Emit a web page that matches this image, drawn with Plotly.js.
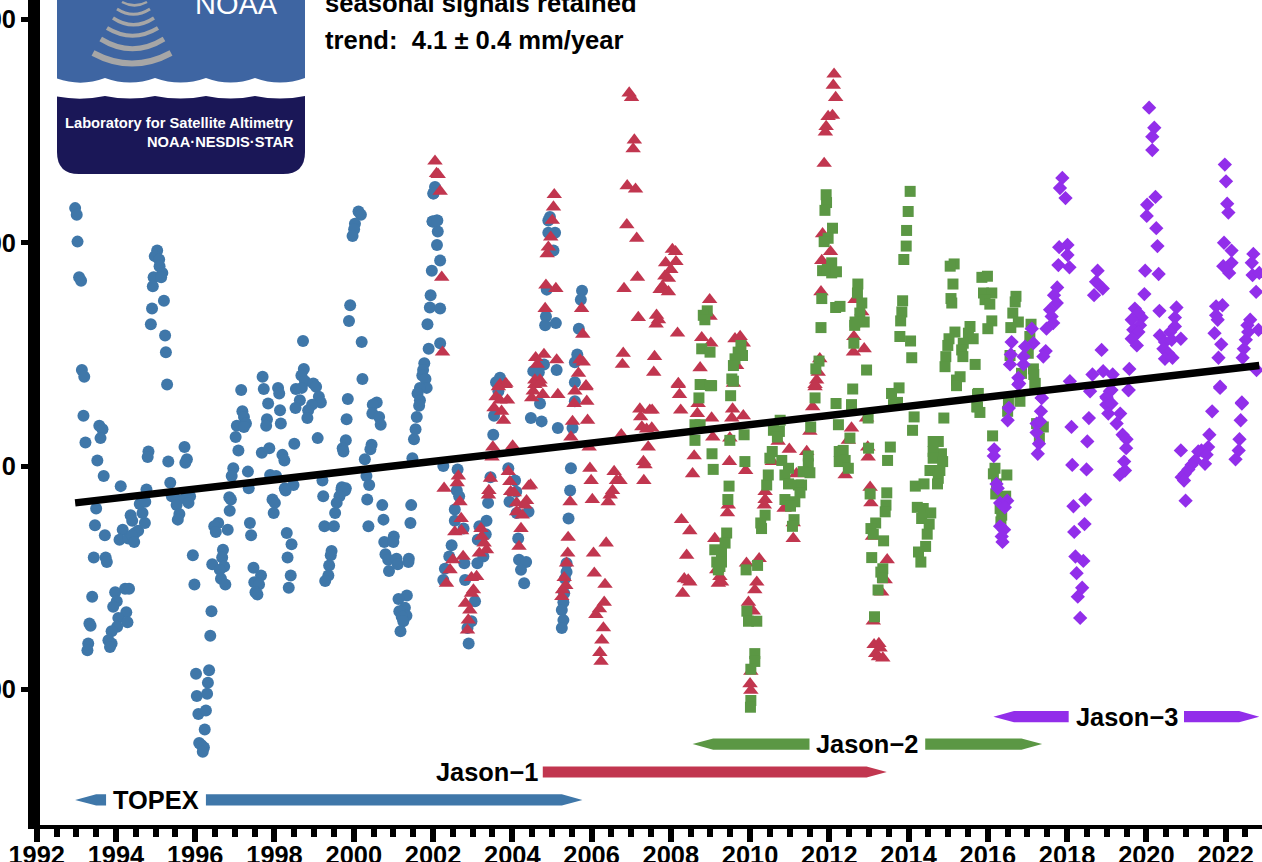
<!DOCTYPE html>
<html><head><meta charset="utf-8">
<script src="https://cdn.plot.ly/plotly-3.0.1.min.js"></script>
<style>html,body{margin:0;padding:0;background:#fff;overflow:hidden}</style>
</head><body><div id="chart" style="width:1262px;height:862px"></div>
<script>
// [year, sea level in mm]
const topex = [[1992.97,231],[1993.01,225],[1993.03,201],[1993.07,169],[1993.12,166],[1993.14,86],[1993.20,80],[1993.18,45],[1993.58,36],[1993.66,33],[1993.61,25],[1993.23,21],[1993.53,5],[1993.69,-9],[1994.12,-18],[1994.77,-21],
[1995.04,193],[1994.98,188],[1995.09,185],[1995.10,179],[1995.17,173],[1994.95,169],[1995.14,169],[1994.93,161],[1995.21,148],[1994.91,141],[1994.88,127],[1995.24,117],[1995.26,102],[1995.29,73],
[1994.82,13],[1994.80,8],[1995.32,4],[1995.73,17],[1995.79,6],[1995.75,3],[1995.37,-15],
[1997.16,68],[1997.70,80],[1997.73,69],[1998.09,70],[1998.12,65],[1997.84,56],[1998.14,50],[1997.81,42],[1997.79,36],[1998.16,38],[1997.19,49],[1997.23,44],[1997.28,38],[1997.05,36],[1997.23,35],[1997.02,26],[1997.09,14],[1996.96,-2],[1996.92,-9],[1997.33,-5],[1997.68,12],[1997.87,16],[1998.2,10],[1998.25,5],[1998.5,20],
[1998.72,112],[1998.74,87],[1998.68,81],[1998.77,76],[1998.98,74],[1999.05,71],[1998.54,69],[1998.69,70],[1999.12,62],[1999.17,57],[1998.64,59],[1998.53,52],[1998.95,55],[1998.85,50],[1998.83,43],[1999.09,25],[1997.89,-8],[1998.04,-9],[1999.21,-13],[1998.26,-20],[1998.48,-17],[1997.35,-20],
[2000.12,228],[2000.18,225],[2000.03,217],[2000.01,212],[1999.97,206],[1999.91,144],[1999.88,130],[2000.2,111],[2000.22,78],[1999.85,60],[1999.82,42],[1999.8,23],[1999.72,16],[1999.74,13],[2000.58,57],[2000.48,55],[2000.47,47],[2000.64,44],[2000.68,37],[2000.45,19],[2000.42,15],[2000.28,6],[2000.32,-9],[2000.39,-17],[1999.7,-19],[1999.8,-20],
[2002.01,244],[2001.99,219],[2002.09,220],[2002.12,210],[2002.1,198],[2002.18,184],[2001.97,175],[2001.94,153],[2001.92,142],[2002.18,141],[2001.86,127],[2002.18,110],[2001.89,105],[2001.78,92],[2001.75,86],[2001.73,81],[2001.81,78],[2001.84,70],[2001.67,70],[2001.61,65],[2001.67,59],[2001.65,54],[2001.59,44],[2001.56,33],[2001.52,24],[2001.48,7],
[1993.5,-38],[1993.47,-53],[1993.72,-62],[1993.44,-82],[1993.74,-82],[1993.77,-86],[1993.4,-117],[1993.98,-113],[1994.23,-110],[1994.33,-110],[1994.02,-121],[1993.93,-126],[1994.26,-131],[1994.06,-136],[1994.29,-140],[1994.03,-144],[1993.89,-148],[1993.33,-141],[1993.36,-143],[1993.3,-159],[1993.28,-165],[1993.81,-156],[1993.89,-159],[1993.85,-162],
[1994.37,-44],[1994.41,-49],[1994.17,-57],[1994.09,-66],[1994.31,-65],[1994.48,-60],[1994.56,-58],[1994.4,-62],[1994.46,-68],[1994.73,-51],[1994.67,-42],[1994.6,-34],[1994.74,-32],
[1995.41,-27],[1995.53,-30],[1995.74,-29],[1995.87,-27],[1995.83,-33],[1995.53,-35],[1995.6,-43],[1995.56,-48],[1995.94,-80],[1995.98,-106],
[1996.02,-186],[1996.35,-183],[1996.32,-194],[1996.04,-206],[1996.3,-204],[1996.08,-222],[1996.27,-219],[1996.24,-236],[1996.1,-248],[1996.16,-250],[1996.22,-252],[1996.19,-256],[1996.41,-130],[1996.38,-152],
[1996.58,-51],[1996.48,-54],[1996.52,-59],[1996.82,-57],[1996.7,-75],[1996.68,-82],[1996.43,-88],[1996.73,-90],[1996.62,-93],[1996.65,-101],[1996.76,-106],
[1996.86,-28],[1996.9,-30],[1996.87,-40],[1997.38,-51],[1997.41,-62],[1997.47,-91],[1997.66,-98],[1997.49,-104],[1997.61,-106],[1997.52,-113],[1997.57,-115],
[1997.95,-30],[1998.01,-33],[1997.98,-42],[1998.28,-22],[1998.31,-60],[1998.43,-70],[1998.33,-82],[1998.41,-98],[1998.36,-109],
[1999.23,-27],[1999.26,-54],[1999.5,-54],[1999.69,-21],[1999.78,-22],[1999.64,-27],[1999.57,-33],[1999.53,-42],[1999.44,-76],[1999.42,-80],[1999.38,-89],[1999.36,-98],[1999.28,-103],
[2000.34,-30],[2000.37,-54],[2000.72,-35],[2000.75,-48],[2000.77,-68],[2001.01,-63],[2001.0,-68],[2000.8,-79],[2000.87,-84],[2001.08,-83],[2001.11,-88],[2000.89,-94],[2001.39,-83],[2001.38,-86],[2001.45,-35],[2001.43,-51],
[2001.34,-116],[2001.13,-119],[2001.29,-127],[2001.15,-130],[2001.33,-134],[2001.21,-135],[2001.25,-139],[2001.18,-148],
[2002.05,250],[2002.01,244],[2001.99,219],[2002.11,220],
[2004.95,223],[2004.91,220],[2004.91,209],[2005.08,209],[2005.04,193],[2004.87,158],[2004.85,134],[2004.83,126],[2005.1,128],[2004.8,91],[2004.53,85],[2005.12,86],[2004.67,84],
[2005.76,157],[2005.73,149],[2005.68,123],[2005.64,100],[2005.58,93],[2005.58,75],[2003.69,79],[2003.59,75],
[2005.58,58],[2005.52,34],[2003.65,67],[2003.54,45],[2003.52,28],[2004.47,43],[2004.74,40],[2005.15,34],[2004.7,56],
[2002.26,0],[2002.62,-3],[2002.6,-22],[2002.66,-27],[2002.55,-39],[2002.55,-49],[2002.77,-56],[2002.47,-71],[2002.41,-81],[2002.3,-92],[2002.26,-102],[2002.81,-102],[2002.79,-87],[2003.17,-54],[2003.35,-49],[2003.33,-61],[2003.13,-66],[2003.27,-81],[2003.12,-87],[2003.06,-121],[2002.97,-139],[2002.87,-145],[2002.9,-159],
[2003.39,-33],[2003.45,-10],[2003.9,-2],[2004.07,-13],[2004.1,-23],[2003.93,-32],[2004.11,-42],[2004.41,-41],[2004.15,-65],[2004.17,-84],[2004.35,-86],[2004.22,-93],[2004.3,-105],
[2005.48,-2],[2005.46,-22],[2005.42,-47],[2005.37,-87],[2005.37,-95],[2005.33,-101],[2005.31,-114],[2005.29,-122],[2005.25,-129],[2005.29,-138],[2005.25,-145]];

const jason1 = [[2002.05,273],[2002.09,262],[2002.13,261],[2002.18,246],[2002.22,169],[2002.24,102],
[2005.06,243],[2005.04,232],[2005.01,220],[2004.97,205],[2004.91,196],[2004.88,190],[2004.85,162],[2005.1,159],[2004.83,141],[2005.75,141],[2005.78,118],[2004.8,100],[2004.59,97],[2004.63,91],[2005.12,95],[2005.71,95],[2005.79,93],[2005.67,83],[2004.57,77],[2004.7,77],[2003.84,74],[2003.69,73],[2005.86,72],
[2006.95,334],[2007.01,330],[2007.08,292],[2007.05,284],[2006.9,251],[2007.11,248],[2006.89,216],[2007.14,204],[2007.16,169],[2006.82,159],[2007.18,133],[2006.8,101],[2006.78,91],[2007.59,98],[2007.57,84],
[2008.04,194],[2008.12,192],[2007.87,182],[2008.13,183],[2008.0,176],[2007.85,170],[2007.94,168],[2007.79,161],[2007.73,158],[2007.94,156],[2007.64,135],[2007.69,131],[2007.63,127],[2008.17,119],[2008.74,88],[2008.19,74],
[2008.98,149],[2008.99,134],[2008.78,115],[2009.01,110],[2009.62,114],[2009.75,116],[2009.83,110],[2009.66,90],[2009.58,74],
[2012.12,351],[2012.1,341],[2012.16,330],[2012.08,314],[2011.97,313],[2011.92,304],[2011.9,299],[2011.87,271],[2011.83,208],[2012.03,192],[2011.81,184],[2011.79,156],[2011.76,96],[2011.72,84],[2011.68,77],[2011.64,71],
[2005.15,64],[2005.86,71],[2005.58,67],[2005.88,58],[2005.56,56],[2005.9,41],[2005.52,40],[2005.48,26],[2005.94,17],
[2003.82,73],[2003.65,71],[2003.88,59],[2003.59,62],[2003.69,59],[2003.54,52],[2003.73,49],[2003.78,41],[2004.57,73],[2004.7,74],[2004.53,67],[2004.77,64],[2004.49,61],[2003.51,17],[2003.49,8],[2004.01,18],
[2002.28,-20],[2002.64,-9],[2002.61,-15],[2002.68,-32],[2002.71,-47],[2002.55,-59],[2002.72,-58],[2002.5,-84],[2002.76,-81],[2002.43,-93],[2002.34,-105],
[2003.45,-11],[2003.41,-22],[2003.4,-26],[2003.9,-5],[2003.94,-14],[2003.96,-23],[2004.05,-24],[2004.46,-17],[2004.41,-18],[2004.11,-33],[2004.36,-31],[2004.32,-35],[2004.11,-41],[2004.25,-44],[2004.22,-56],[2004.17,-72],
[2003.21,-56],[2003.23,-63],[2003.29,-69],[2003.35,-75],[2003.17,-78],[2003.1,-99],[2002.97,-100],[2003.02,-111],[2002.97,-114],[2002.82,-123],[2002.93,-129],[2002.89,-138],[2002.87,-147],
[2005.46,-32],[2005.41,-64],[2005.4,-78],[2005.37,-87],[2005.31,-100],[2005.35,-107],[2005.27,-111],[2005.25,-117],
[2005.96,-2],[2005.99,-13],[2006.02,-30],[2006.57,-5],[2006.72,-13],[2006.63,-13],[2006.53,-22],[2006.47,-26],[2006.42,-32],[2006.37,-69],[2006.05,-78],[2006.07,-96],[2006.34,-106],[2006.32,-122],[2006.2,-128],[2006.11,-133],[2006.3,-145],[2006.26,-156],[2006.21,-167],[2006.24,-175],
[2006.75,28],[2007.22,51],[2007.47,50],[2007.53,50],[2007.24,44],[2007.27,35],[2007.39,33],[2007.52,34],[2007.43,17],[2007.31,4],[2007.35,1],[2007.32,-13],
[2008.19,73],[2008.22,64],[2008.25,50],[2008.67,47],[2008.69,56],[2009.03,43],[2009.06,26],[2008.59,9],[2008.55,-7],[2009.56,51],[2009.54,43],[2009.83,45],[2009.49,25],[2009.48,4],[2009.89,-4],
[2009.45,-35],[2009.43,-42],[2008.27,-48],[2008.48,-58],[2008.4,-80],[2008.34,-101],[2008.44,-102],[2008.48,-104],[2008.3,-114],[2009.11,-65],[2009.16,-93],[2009.24,-99],[2009.2,-105],[2009.28,-104],
[2009.91,-87],[2010.23,-83],[2010.17,-104],[2010.12,-111],[2009.96,-122],[2010.08,-130],[2010.02,-184],[2010.0,-195],[2010.02,-201],
[2010.38,-23],[2010.38,-30],[2010.36,-35],[2010.86,-38],[2011.09,-51],[2011.09,-65],[2010.56,4],[2010.71,22],[2010.99,15],[2011.17,-7],[2011.43,13],[2011.51,31],[2011.58,53],[2011.64,73],
[2012.56,34],[2012.48,23],[2012.4,-8],[2012.94,43],[2012.97,17],[2012.98,8],[2013.03,-19],[2013.05,-33],[2013.09,-63],[2013.46,-84],[2013.41,-102],[2013.32,-113],[2013.11,-139],[2013.13,-160],[2013.25,-159],[2013.28,-163],[2013.17,-168],[2013.24,-171],[2013.35,-172],
[2012.65,149],[2012.82,138],[2012.62,116],[2012.88,105],[2012.61,102]];

const jason2 = [[2011.92,243],[2011.93,236],[2011.89,229],[2012.08,213],[2011.97,204],[2011.87,201],[2012.06,182],[2011.83,175],[2012.06,173],[2011.95,176],[2012.18,174],[2011.81,150],[2012.16,142],[2011.79,124],[2011.74,94],[2011.66,87],
[2008.92,139],[2008.82,135],[2008.86,131],[2008.78,105],[2008.99,102],[2008.74,73],[2009.03,72],[2009.77,108],[2009.7,102],[2009.81,99],[2009.62,96],[2009.58,90],[2009.54,78],
[2008.76,73],[2009.0,72],[2008.71,61],[2008.61,37],[2008.74,37],[2008.61,23],[2009.04,11],[2009.07,-3],[2009.51,63],[2009.58,76],[2009.49,23],[2009.85,28],[2009.87,4],[2009.47,-18],[2009.44,-30],
[2009.41,-60],[2009.37,-69],[2009.11,-75],[2009.28,-78],[2009.16,-86],[2009.28,-86],[2009.2,-93],[2009.24,-90],
[2010.38,-44],[2010.27,-51],[2010.29,-56],[2010.42,-17],[2010.46,-8],[2010.5,7],[2010.56,13],[2010.8,5],[2010.59,32],[2010.74,31],[2010.76,41],[2010.69,26],
[2010.97,-2],[2010.88,-8],[2010.97,-16],[2011.22,-17],[2011.3,-17],[2011.26,-24],[2010.88,-30],[2011.13,-32],[2011.02,-36],[2011.11,-48],[2011.07,-54],
[2011.47,9],[2011.47,2],[2011.34,-5],[2011.51,-6],[2011.53,35],[2011.64,61],[2012.17,56],[2012.23,37],[2012.25,13],[2012.25,4],
[2010.12,-168],[2010.12,-175],[2010.02,-182],[2010.02,-210],[2010.01,-216],[2009.92,-130],[2009.96,-139],[2010.17,-139],[2009.9,-93],[2010.19,-89],
[2014.04,246],[2013.99,228],[2013.95,211],[2013.94,197],[2013.88,185],[2013.85,148],[2013.83,138],[2013.8,130],[2013.78,116],[2014.05,112],[2014.08,97],
[2012.72,163],[2012.71,155],[2012.82,146],[2012.77,137],[2012.65,129],[2012.88,129],[2012.64,126],[2012.62,110],[2012.94,86],[2012.59,69],[2012.56,55],[2012.27,143],
[2015.15,181],[2015.05,179],[2015.12,163],[2015.07,150],[2015.09,146],[2015.17,120],[2015.02,114],[2014.99,108],[2014.94,98],[2014.92,89],[2015.3,80],[2015.21,77],[2015.21,72],
[2015.85,169],[2015.99,170],[2015.89,155],[2016.1,155],[2015.93,149],[2016.05,145],[2016.1,130],[2016.0,123],[2015.55,125],[2015.51,119],[2015.63,114],[2015.38,110],[2015.34,104],[2015.37,98],[2015.68,91],
[2016.71,152],[2016.69,147],[2016.63,137],[2016.77,129],[2016.58,124],[2017.09,127],[2017.06,116],[2017.02,101],[2016.56,99],[2016.85,83],[2017.15,87],[2017.16,82],[2017.19,74],[2015.74,64],[2015.72,53],
[2013.76,70],[2013.57,65],[2013.66,56],[2013.72,57],[2013.62,55],[2014.14,44],[2014.1,32],[2014.89,43],[2012.98,43],[2012.52,25],[2012.35,14],[2012.4,5],[2012.48,-2],[2013.54,17],[2013.47,5],[2012.99,16],
[2014.75,22],[2014.62,22],[2014.83,11],[2014.62,13],[2014.62,7],[2014.86,4],[2014.54,-4],[2014.79,-4],[2014.75,-11],[2014.73,-16],[2014.39,-16],[2014.17,-18],[2013.45,-24],[2013.03,-25],[2013.43,-35],[2013.41,-41],
[2014.22,-37],[2014.37,-38],[2014.56,-42],[2014.33,-47],[2014.52,-52],[2014.47,-61],[2013.17,-51],[2013.05,-56],[2013.11,-61],[2013.37,-67],[2014.43,-72],[2014.25,-77],[2014.31,-86],[2013.07,-82],[2013.35,-92],[2013.3,-95],[2013.34,-100],[2013.23,-111],[2013.14,-135],
[2015.76,65],[2015.74,53],[2015.8,48],[2016.12,27],[2016.18,-2],[2016.14,-7],[2016.48,-8],[2016.22,-16],[2016.2,-25],[2016.45,-27],[2016.31,-38],[2016.35,-44],[2016.33,-50],
[2016.52,58],[2016.81,58],[2016.5,49],[2017.19,74],[2017.23,38],[2017.4,35],[2017.3,25]];

const jason3 = [[2020.07,321],[2020.2,303],[2020.15,295],[2020.15,283],[2020.23,241],[2020.02,234],[2020.01,224],[2020.25,213],[2020.28,197],[2019.97,175],[2020.31,172],[2019.95,154],[2020.33,139],
[2019.71,141],[2019.8,137],[2019.88,133],[2019.63,131],[2019.84,126],[2019.67,122],[2019.8,120],[2019.63,114],[2019.76,108],
[2020.76,142],[2020.72,133],[2020.72,125],[2020.6,120],[2020.34,117],[2020.87,114],[2020.47,111],[2020.64,113],[2020.43,105],[2020.55,101],[2020.47,96],[2020.66,97],
[2017.88,258],[2017.82,249],[2017.96,240],[2018.01,198],[2017.8,196],[2018.01,189],[2017.78,180],[2018.06,178],[2017.75,160],[2017.67,153],[2017.74,146],[2017.57,140],[2017.61,134],[2017.65,128],[2017.48,123],
[2018.77,175],[2018.73,165],[2018.9,159],[2018.68,153],[2018.87,104],
[2017.11,123],[2016.6,111],[2017.15,110],[2016.94,107],[2016.58,100],[2017.46,103],[2017.4,98],[2016.9,98],[2016.56,91],[2016.9,91],[2016.77,79],[2016.77,73],
[2018.64,82],[2018.91,85],[2019.15,82],[2019.57,87],[2018.07,76],[2019.55,68],[2018.58,67],[2019.08,67],[2019,61],[2017.36,61],
[2021.98,270],[2022.01,255],[2022.04,235],[2022.07,227],[2021.96,200],[2022.15,193],[2022.15,182],[2021.94,179],[2022.09,173],
[2022.7,190],[2022.66,182],[2022.68,171],[2022.85,173],[2022.77,156],
[2021.92,144],[2021.76,143],[2021.76,135],[2021.8,131],[2021.72,119],[2021.89,109],[2021.82,97],[2021.86,71],
[2022.62,131],[2022.55,126],[2022.57,120],[2022.83,122],[2022.51,113],[2022.46,105],[2022.43,97],[2022.78,86],[2022.41,57],
[2016.79,74],[2016.53,52],[2016.5,41],[2017.36,61],[2017.34,49],[2017.23,38],[2017.32,40],[2017.23,30],[2017.29,20],[2017.26,11],
[2016.16,15],[2016.15,9],[2016.22,-16],[2016.25,-20],[2016.31,-33],[2016.49,-31],[2016.43,-37],[2016.31,-54],[2016.41,-57],[2016.35,-63],[2016.37,-68],
[2018.55,43],[2018.51,22],[2018.11,35],[2018.13,1],[2018.49,-3],[2018.46,-30],[2018.16,-36],[2018.44,-52],[2018.18,-59],[2018.21,-81],[2018.41,-85],[2018.24,-96],[2018.38,-109],[2018.27,-117],[2018.33,-136],
[2018.99,62],[2019.12,68],[2018.99,55],[2019.12,56],[2019.04,47],[2019.34,47],[2019.25,38],[2019.4,28],[2019.5,24],[2019.49,16],[2019.44,4],[2019.46,-4],[2019.33,-8],
[2019.55,68],[2021.86,70],[2022.41,56],[2022.38,41],[2021.66,49],[2022.35,24],[2022.33,14],[2022.25,6],
[2021.59,28],[2020.87,14],[2021.56,17],[2021.39,14],[2021.31,13],[2021.52,10],[2021.48,2],[2021.23,5],[2021.14,1],[2021.06,-3],[2020.97,-7],[2020.89,-10],[2020.95,-13],[2020.99,-31]];

const trendYears = [1992.97, 2022.85];
const trendMm = [-33, 90];

const missionNames = ["TOPEX", "Jason\u22121", "Jason\u22122", "Jason\u22123"];
const missionColors = ["#3f77a9", "#c1364f", "#5b9744", "#922eea"];
const missionLevel = [-299, -274, -249, -224.5];
const missionLabelYear = [1995.01, 2003.37, 2012.95, 2019.5];
const missionTipLeft = [1992.97, null, 2008.55, 2016.14];
const missionHeadLeft = [1993.5, 2004.77, 2009.07, 2016.66];
const missionGapStart = [1993.75, null, 2011.5, 2018.04];
const missionGapEnd = [1996.27, null, 2014.42, 2020.95];
const missionHeadRight = [2005.25, 2012.94, 2016.85, 2022.34];
const missionTipRight = [2005.77, 2013.45, 2017.37, 2022.85];

const W = 1262, H = 862, L = 33, B = 37;
const pw = W - L, ph = H - B;
const fx = x => (x - L) / pw, fy = y => 1 - y / ph;
const FONT = '"Liberation Sans", Arial, sans-serif';
const P = (x, y) => fx(x).toFixed(5) + ',' + fy(y).toFixed(5);

function paperPath(d, fill, line) {
  return {type: 'path', xref: 'paper', yref: 'paper', layer: 'above', path: d,
    fillcolor: fill || 'rgba(0,0,0,0)', line: line || {width: 0}};
}
const shapes = [];

// satellite mission arrows
const half = 5;
function dataPath(pts, color) {
  shapes.push({type: 'path', xref: 'x', yref: 'y', layer: 'above',
    path: 'M' + pts.map(p => p[0] + ',' + p[1]).join('L') + 'Z', fillcolor: color, line: {width: 0}});
}
missionNames.forEach((n, i) => {
  const y = missionLevel[i], c = missionColors[i];
  const endBar = missionGapStart[i];
  if (endBar !== null) {
    dataPath([[missionTipLeft[i], y], [missionHeadLeft[i], y + half], [endBar, y + half], [endBar, y - half], [missionHeadLeft[i], y - half]], c);
    dataPath([[missionGapEnd[i], y + half], [missionHeadRight[i], y + half], [missionTipRight[i], y], [missionHeadRight[i], y - half], [missionGapEnd[i], y - half]], c);
  } else {
    dataPath([[missionHeadLeft[i], y + half], [missionHeadRight[i], y + half], [missionTipRight[i], y], [missionHeadRight[i], y - half], [missionHeadLeft[i], y - half]], c);
  }
});

// logo
shapes.push(paperPath('M' + P(57, -6) + 'L' + P(305, -6) + 'L' + P(305, 152) + 'Q' + P(305, 174) + ' ' + P(283, 174) + 'L' + P(79, 174) + 'Q' + P(57, 174) + ' ' + P(57, 152) + 'Z', '#1a1757'));
function waveTop(y, dy) {
  const cusps = [105, 155, 206, 255, 305];
  let d = '', prev = 57;
  cusps.forEach(c => { d += 'Q' + P((prev + c) / 2, y + dy) + ' ' + P(c, y); prev = c; });
  return d;
}
shapes.push(paperPath('M' + P(57, -6) + 'L' + P(57, 96.5) + waveTop(96, 5) + 'L' + P(305, -6) + 'Z', '#ffffff'));
shapes.push(paperPath('M' + P(57, -6) + 'L' + P(57, 78.5) + waveTop(78, 9) + 'L' + P(305, -6) + 'Z', '#3e65a2'));
[[93, 171, 53, 65, 6], [100.7, 164, 39, 50, 5], [107, 158, 28, 36.7, 4], [113, 154, 18, 25.7, 3.5], [117, 150, 9, 15, 3], [122, 147, 2, 6, 2.5]]
  .forEach(a => {
    const ctrl = 2 * a[3] - a[2] - a[4] / 2;
    shapes.push(paperPath('M' + P(a[0], a[2]) + 'Q' + P((a[0] + a[1]) / 2, ctrl) + ' ' + P(a[1], a[2]), null, {color: '#a6a6a6', width: a[4]}));
  });

// heavy left axis line
shapes.push({type: 'rect', xref: 'paper', yref: 'paper', layer: 'above',
  x0: fx(28), x1: fx(40), y0: fy(-5), y1: fy(829), fillcolor: '#000', line: {width: 0}});

const annotations = missionNames.map((n, i) => ({
  text: n, x: missionLabelYear[i], y: missionLevel[i], xref: 'x', yref: 'y', showarrow: false,
  xanchor: 'center', yanchor: 'middle', font: {family: FONT, size: 25.4, color: '#000', weight: 700}
}));
function note(text, x, y, size, color, anchor, weight) {
  annotations.push({text, x: fx(x), y: fy(y), xref: 'paper', yref: 'paper', showarrow: false,
    xanchor: anchor, yanchor: 'middle', borderpad: 0, borderwidth: 0,
    font: {family: FONT, size, color, weight}});
}
note('seasonal signals retained', 325, 3, 25.6, '#000', 'left', 700);
note('trend:\u00a0\u00a04.1 \u00b1 0.4 mm/year', 325, 40, 25.6, '#000', 'left', 700);
note('NOAA', 236.5, 4, 29, '#fff', 'center', 400);
note('Laboratory for Satellite Altimetry', 294, 123.5, 14.7, '#fff', 'right', 700);
note('NOAA\u00b7NESDIS\u00b7STAR', 293.5, 141.5, 14.7, '#fff', 'right', 700);

function series(pts, color, symbol, size) {
  return {type: 'scatter', mode: 'markers', x: pts.map(p => p[0]), y: pts.map(p => p[1]),
    marker: {color, symbol, size, line: {width: 0}}, hoverinfo: 'skip'};
}
const traces = [
  series(topex, missionColors[0], 'circle', 12),
  series(jason1, missionColors[1], 'triangle-up', 13.5),
  series(jason2, missionColors[2], 'square', 11),
  series(jason3, missionColors[3], 'diamond', 11),
  {type: 'scatter', mode: 'lines', x: trendYears, y: trendMm, line: {color: '#000', width: 7.5}, hoverinfo: 'skip'}
];

const layout = {
  width: W, height: H, showlegend: false, paper_bgcolor: '#fff', plot_bgcolor: '#fff',
  margin: {l: L, r: 0, t: 0, b: B, pad: 0},
  font: {family: FONT},
  xaxis: {
    range: [1991.9066, 2022.918], tick0: 1992, dtick: 2, ticks: 'outside', ticklen: 13, tickwidth: 6, tickcolor: '#000',
    showline: true, linecolor: '#000', linewidth: 4, showgrid: false, zeroline: false,
    tickfont: {family: FONT, size: 25.4, color: '#000', weight: 700}, ticklabelstandoff: -8,
    minor: {tick0: 1992, dtick: 0.5, ticks: 'outside', ticklen: 8, tickwidth: 6, tickcolor: '#000', showgrid: false}
  },
  yaxis: {
    range: [-321.5, 417.4], tick0: 0, dtick: 200, ticks: 'outside', ticklen: 11, tickwidth: 5, tickcolor: '#000',
    showline: false, showgrid: false, zeroline: false,
    tickfont: {family: FONT, size: 25.4, color: '#000', weight: 700}
  },
  shapes, annotations
};
Plotly.newPlot('chart', traces, layout, {displayModeBar: false, staticPlot: true});
</script></body></html>
